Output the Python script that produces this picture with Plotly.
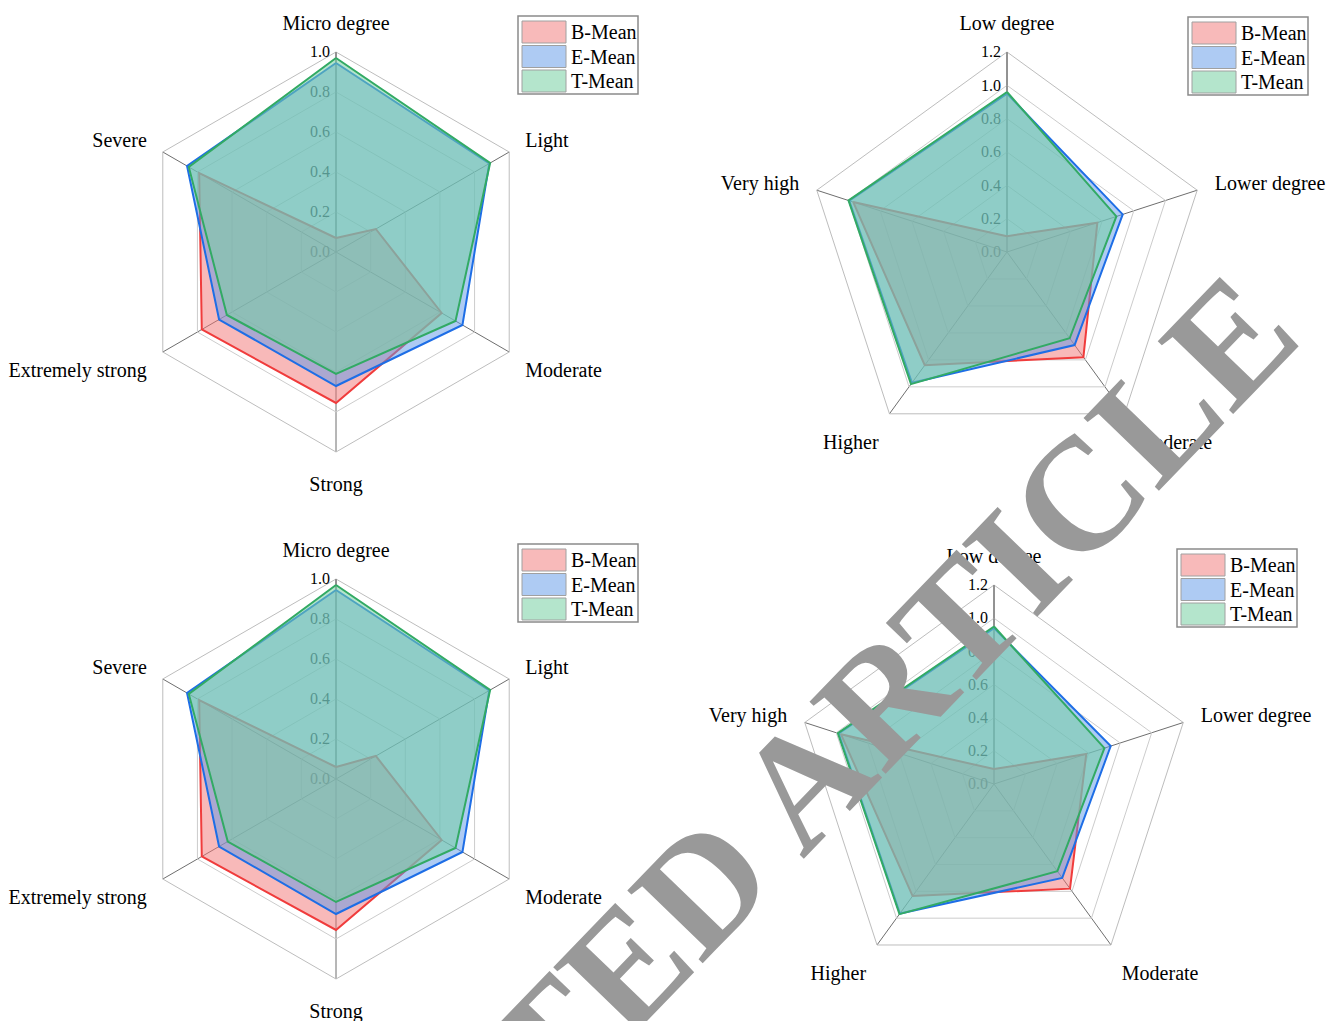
import plotly.graph_objects as go

W, H = 1338, 1021

# ---------------- data ----------------
hex_categories = ["Micro degree", "Light", "Moderate", "Strong", "Extremely strong", "Severe"]
pent_categories = ["Low degree", "Lower degree", "Moderate", "Higher", "Very high"]
series_names = ["B-Mean", "E-Mean", "T-Mean"]

tl_B = [0.07, 0.23, 0.61, 0.755, 0.775, 0.79]
tl_E = [0.945, 0.885, 0.73, 0.67, 0.675, 0.86]
tl_T = [0.97, 0.89, 0.69, 0.61, 0.63, 0.85]

bl_B = [0.06, 0.23, 0.61, 0.755, 0.775, 0.79]
bl_E = [0.945, 0.885, 0.73, 0.675, 0.675, 0.86]
bl_T = [0.97, 0.89, 0.69, 0.615, 0.625, 0.85]

tr_B = [0.095, 0.57, 0.78, 0.84, 0.97]
tr_E = [0.95, 0.73, 0.69, 0.97, 0.995]
tr_T = [0.96, 0.69, 0.64, 0.98, 1.0]

br_B = [0.09, 0.585, 0.78, 0.835, 0.97]
br_E = [0.94, 0.74, 0.70, 0.965, 0.985]
br_T = [0.95, 0.70, 0.65, 0.97, 0.99]

hex_range = [0, 1.0]
pent_range = [0, 1.2]

# ---------------- styles ----------------
line_colors = ["#F03C3C", "#1E6EE6", "#32AA64"]
fill_colors = ["rgba(241,115,115,0.5)", "rgba(93,151,231,0.5)", "rgba(119,208,162,0.55)"]
swatch_colors = ["#F8BABA", "#AECBF3", "#B4E5CC"]
SERIF = "Liberation Serif, Times New Roman, serif"

fig = go.Figure()

panels = [
    ("polar", hex_categories, [tl_B, tl_E, tl_T], hex_range, (336, 252, 200)),
    ("polar2", pent_categories, [tr_B, tr_E, tr_T], pent_range, (1007, 252, 200)),
    ("polar3", hex_categories, [bl_B, bl_E, bl_T], hex_range, (336, 779, 200)),
    ("polar4", pent_categories, [br_B, br_E, br_T], pent_range, (994, 784, 199)),
]

layout_polars = {}
for pname, cats, vals, rng, (cx, cy, rad) in panels:
    for name, v, lc, fc in zip(series_names, vals, line_colors, fill_colors):
        fig.add_trace(go.Scatterpolar(
            r=v + [v[0]], theta=cats + [cats[0]],
            mode="lines", fill="toself", fillcolor=fc,
            line=dict(color=lc, width=2),
            name=name, showlegend=False, subplot=pname,
        ))
    layout_polars[pname] = dict(
        domain=dict(x=[(cx - rad) / W, (cx + rad) / W],
                    y=[1 - (cy + rad) / H, 1 - (cy - rad) / H]),
        gridshape="linear",
        bgcolor="rgba(0,0,0,0)",
        angularaxis=dict(
            rotation=90, direction="clockwise",
            tickfont=dict(family=SERIF, size=20, color="black"),
            showline=True, linecolor="#bdbdbd", linewidth=1,
            gridcolor="#6e6e6e", gridwidth=1,
            ticks="outside", ticklen=14, tickcolor="rgba(0,0,0,0)",
            layer="below traces",
        ),
        radialaxis=dict(
            range=rng, dtick=0.2, tickformat=".1f", tickangle=90, angle=90,
            side="counterclockwise",
            tickfont=dict(family=SERIF, size=16, color="black"),
            showline=True, linecolor="#6e6e6e", linewidth=1,
            gridcolor="#cccccc", gridwidth=1, ticks="", layer="below traces",
        ),
    )

# ---------------- legends (one per panel) ----------------
legend_pos = [(518, 16), (1188, 17), (518, 544), (1177, 549)]
shapes = []
annotations = []


def pp(x, y):
    return x / W, 1 - y / H


for (lx, ly) in legend_pos:
    x0, y0 = pp(lx, ly)
    x1, y1 = pp(lx + 120, ly + 78)
    shapes.append(dict(type="rect", xref="paper", yref="paper", x0=x0, y0=y0, x1=x1, y1=y1,
                       line=dict(color="#8a8a8a", width=1.5), fillcolor="white", layer="above"))
    for i, (name, sc) in enumerate(zip(series_names, swatch_colors)):
        top = ly + 5 + i * 24.5
        sx0, sy0 = pp(lx + 4, top)
        sx1, sy1 = pp(lx + 48, top + 22)
        shapes.append(dict(type="rect", xref="paper", yref="paper", x0=sx0, y0=sy0, x1=sx1, y1=sy1,
                           line=dict(color="#a0a0a0", width=1), fillcolor=sc, layer="above"))
        tx, ty = pp(lx + 51, top + 11)
        annotations.append(dict(text=name, x=tx, y=ty, xref="paper", yref="paper",
                                xanchor="left", yanchor="middle", showarrow=False,
                                font=dict(family=SERIF, size=20, color="black")))

# watermark
wx, wy = pp(655, 935)
annotations.append(dict(text="<b>RETRACTED ARTICLE</b>", x=wx, y=wy, xref="paper", yref="paper",
                        xanchor="center", yanchor="middle", showarrow=False, textangle=-46,
                        font=dict(family=SERIF, size=160, color="#999999")))

fig.update_layout(
    width=W, height=H,
    margin=dict(l=0, r=0, t=0, b=0),
    paper_bgcolor="white", plot_bgcolor="white",
    showlegend=False,
    shapes=shapes, annotations=annotations,
    **layout_polars,
)

fig.write_html("out.html")
